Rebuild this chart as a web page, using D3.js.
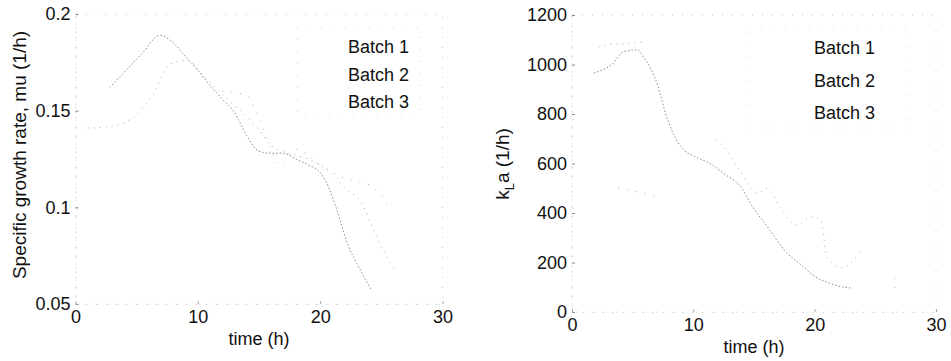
<!DOCTYPE html>
<html>
<head>
<meta charset="utf-8">
<script src="https://cdn.jsdelivr.net/npm/d3@7"></script>
<style>
	body { margin: 0; background: #fff; }
	svg text { font-family: "Liberation Sans", Arial, sans-serif; fill: #111; }
</style>
</head>
<body>
<svg id="chart" width="951" height="361"></svg>
<script>
// time axis ticks
var timeTicks = [0, 10, 20, 30];

// left panel: specific growth rate mu (1/h)
var muTicks = [0.05, 0.1, 0.15, 0.2];
var muBatch1T = [2.8, 4, 5.5, 6.9, 8, 9, 10, 11, 12, 13, 14, 15, 16, 17, 18, 19, 20, 20.5, 21.3, 22.3, 23, 24.2];
var muBatch1 = [0.162, 0.170, 0.180, 0.189, 0.185, 0.178, 0.171, 0.163, 0.156, 0.149, 0.137, 0.129, 0.128, 0.128, 0.125, 0.122, 0.118, 0.113, 0.100, 0.080, 0.071, 0.057];
var muBatch2T = [1, 3, 5, 6.3, 7.7, 9, 10.5, 12, 13.5, 15, 16, 17, 18, 19, 20, 21, 22, 23.4, 24.4, 25.3, 26.2];
var muBatch2 = [0.141, 0.142, 0.148, 0.158, 0.174, 0.176, 0.168, 0.158, 0.150, 0.140, 0.132, 0.129, 0.127, 0.125, 0.122, 0.117, 0.110, 0.102, 0.088, 0.076, 0.067];
var muBatch3T = [12, 14, 15, 16.8, 18, 20, 22, 24.2, 25.8];
var muBatch3 = [0.160, 0.158, 0.146, 0.122, 0.130, 0.122, 0.115, 0.111, 0.098];

// right panel: kLa (1/h); null marks a gap in the trace
var klaTicks = [0, 200, 400, 600, 800, 1000, 1200];
var klaBatch1T = [1.8, 3.4, 4.2, 5.4, 5.9, 7.1, 7.7, 8.4, 9, 10.2, 11.3, 12.7, 13.8, 14.9, 16.3, 17.5, 18.9, 20.1, 21.2, 22.3, 23.1];
var klaBatch1 = [966, 1006, 1051, 1059, 1030, 910, 804, 715, 667, 626, 602, 553, 513, 424, 331, 250, 190, 141, 117, 101, 97];
var klaBatch2T = [2.2, 2.9, 4.5, 5.9, 9, 11.9, 12.6, 14, 15.3, 16, 17.2, 18.5, 19.7, 20.5, 21, 22.3, 23.7];
var klaBatch2 = [1071, 1079, 1085, 1091, null, 695, 662, 560, 480, 500, 420, 351, 384, 371, 222, 178, 242];
var klaBatch3T = [3.8, 5.9, 7.1, 15, 26.6, 26.6];
var klaBatch3 = [500, 480, 465, null, 137, 97];

var legendNames = ['Batch 1', 'Batch 2', 'Batch 3'];

var svg = d3.select('#chart');

function series(t, v){
	return t.map(function(d, i){ return {t: d, v: v[i]}; });
}

var lineStyles = [
	{stroke: '#8c8c8c', dash: '1.5,2'},
	{stroke: '#ababab', dash: '1,5'},
	{stroke: '#b4b4b4', dash: '1,8'}
];

function drawPanel(opts){
	var g = svg.append('g');
	var x = d3.scaleLinear().domain([0, 30]).range([opts.x0, opts.x1]);
	var y = d3.scaleLinear().domain(opts.yDomain).range([opts.yBottom, opts.yTop]);

	// faded box
	g.append('rect')
		.attr('x', opts.x0).attr('y', opts.yTop)
		.attr('width', opts.x1 - opts.x0).attr('height', opts.yBottom - opts.yTop)
		.attr('fill', 'none')
		.attr('stroke', '#c4c4c4')
		.attr('stroke-width', 1)
		.attr('stroke-dasharray', '1,9');

	var yAxis = g.append('g')
		.attr('transform', 'translate(' + opts.x0 + ',0)')
		.call(d3.axisLeft(y).tickValues(opts.yTicks).tickSizeInner(-3).tickSizeOuter(0).tickPadding(5)
			.tickFormat(opts.yFormat));
	yAxis.select('.domain').attr('stroke', '#bbb').attr('stroke-dasharray', '1,7');
	yAxis.selectAll('line').attr('stroke', '#888');
	yAxis.selectAll('text').style('font-size', '18px').attr('fill', '#111');

	var xAxis = g.append('g')
		.attr('transform', 'translate(0,' + opts.yBottom + ')')
		.call(d3.axisBottom(x).tickValues(timeTicks).tickSizeInner(-3).tickSizeOuter(0).tickPadding(6));
	xAxis.select('.domain').attr('stroke', '#bbb').attr('stroke-dasharray', '1,9');
	xAxis.selectAll('line').attr('stroke', '#aaa');
	xAxis.selectAll('text').style('font-size', '18px').attr('fill', '#111');

	var line = d3.line()
		.defined(function(d){ return d.v !== null; })
		.x(function(d){ return x(d.t); })
		.y(function(d){ return y(d.v); })
		.curve(d3.curveMonotoneX);

	opts.data.forEach(function(d, i){
		g.append('path')
			.datum(d)
			.attr('d', line)
			.attr('fill', 'none')
			.attr('stroke', lineStyles[i].stroke)
			.attr('stroke-width', 1)
			.attr('stroke-dasharray', lineStyles[i].dash);
	});

	// legend box, faded
	g.append('rect')
		.attr('x', opts.legend.x0).attr('y', opts.legend.y0)
		.attr('width', opts.legend.x1 - opts.legend.x0)
		.attr('height', opts.legend.y1 - opts.legend.y0)
		.attr('fill', 'none')
		.attr('stroke', '#d0d0d0')
		.attr('stroke-dasharray', '1,11');

	g.selectAll('.legend-text')
		.data(legendNames)
		.enter()
		.append('text')
		.attr('class', 'legend-text')
		.attr('x', opts.legend.tx)
		.attr('y', function(d, i){ return opts.legend.ty[i]; })
		.style('font-size', '18px')
		.text(function(d){ return d; });

	g.append('text')
		.attr('x', (opts.x0 + opts.x1) / 2)
		.attr('y', opts.xLabelY)
		.attr('text-anchor', 'middle')
		.style('font-size', '18px')
		.text('time (h)');

	return g;
}

drawPanel({
	x0: 75.5, x1: 442.5, yTop: 14, yBottom: 304,
	yDomain: [0.05, 0.2], yTicks: muTicks,
	yFormat: function(d){ return d3.format('')(+d.toFixed(2)); },
	data: [series(muBatch1T, muBatch1), series(muBatch2T, muBatch2), series(muBatch3T, muBatch3)],
	legend: {x0: 297, x1: 420, y0: 28, y1: 115, tx: 348, ty: [53, 81, 108]},
	xLabelY: 345
});

svg.append('text')
	.attr('transform', 'translate(26,155) rotate(-90)')
	.attr('text-anchor', 'middle')
	.style('font-size', '19px')
	.text('Specific growth rate, mu (1/h)');

drawPanel({
	x0: 572, x1: 936, yTop: 15, yBottom: 312,
	yDomain: [0, 1200], yTicks: klaTicks,
	yFormat: d3.format('d'),
	data: [series(klaBatch1T, klaBatch1), series(klaBatch2T, klaBatch2), series(klaBatch3T, klaBatch3)],
	legend: {x0: 749, x1: 909, y0: 27, y1: 128, tx: 814, ty: [54, 87, 119]},
	xLabelY: 353
});

var kla = svg.append('text')
	.attr('transform', 'translate(509,164) rotate(-90)')
	.attr('text-anchor', 'middle')
	.style('font-size', '19px');
kla.append('tspan').text('k');
kla.append('tspan').attr('dy', 5).style('font-size', '13px').text('L');
kla.append('tspan').attr('dy', -5).text('a (1/h)');
</script>
</body>
</html>
